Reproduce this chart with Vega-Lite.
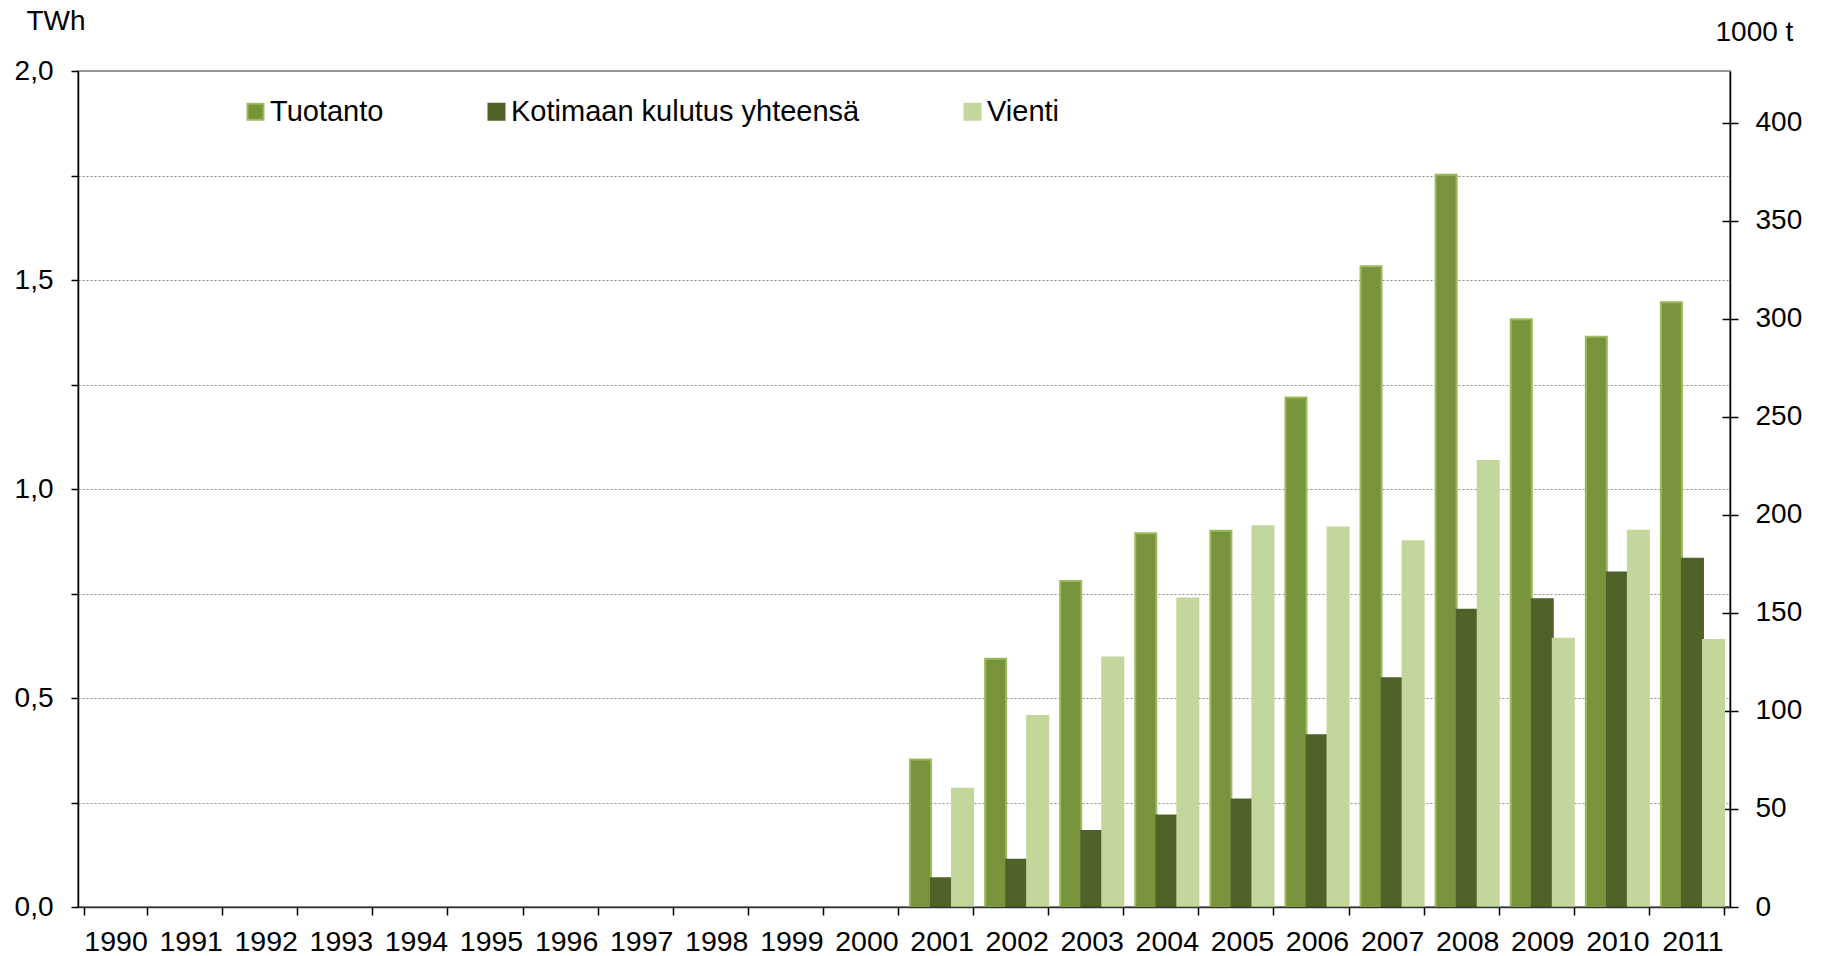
{
  "$schema": "https://vega.github.io/schema/vega-lite/v6.json",
  "width": 1652,
  "height": 836,
  "autosize": {"type": "none"},
  "padding": {"left": 78, "top": 71, "right": 92, "bottom": 49},
  "background": "#ffffff",
  "config": {
    "font": "Liberation Sans",
    "view": {"stroke": "#9a9a9a", "strokeWidth": 2}
  },
  "data": {
    "values": [
      {"year": "2001", "series": "Tuotanto", "value": 0.353},
      {"year": "2002", "series": "Tuotanto", "value": 0.594},
      {"year": "2003", "series": "Tuotanto", "value": 0.780},
      {"year": "2004", "series": "Tuotanto", "value": 0.894},
      {"year": "2005", "series": "Tuotanto", "value": 0.900},
      {"year": "2006", "series": "Tuotanto", "value": 1.219},
      {"year": "2007", "series": "Tuotanto", "value": 1.533},
      {"year": "2008", "series": "Tuotanto", "value": 1.752},
      {"year": "2009", "series": "Tuotanto", "value": 1.406},
      {"year": "2010", "series": "Tuotanto", "value": 1.364},
      {"year": "2011", "series": "Tuotanto", "value": 1.447},
      {"year": "2001", "series": "Kotimaan kulutus yhteensä", "value": 0.069},
      {"year": "2002", "series": "Kotimaan kulutus yhteensä", "value": 0.113},
      {"year": "2003", "series": "Kotimaan kulutus yhteensä", "value": 0.182},
      {"year": "2004", "series": "Kotimaan kulutus yhteensä", "value": 0.219},
      {"year": "2005", "series": "Kotimaan kulutus yhteensä", "value": 0.257},
      {"year": "2006", "series": "Kotimaan kulutus yhteensä", "value": 0.411},
      {"year": "2007", "series": "Kotimaan kulutus yhteensä", "value": 0.547},
      {"year": "2008", "series": "Kotimaan kulutus yhteensä", "value": 0.711},
      {"year": "2009", "series": "Kotimaan kulutus yhteensä", "value": 0.736},
      {"year": "2010", "series": "Kotimaan kulutus yhteensä", "value": 0.800},
      {"year": "2011", "series": "Kotimaan kulutus yhteensä", "value": 0.833},
      {"year": "2001", "series": "Vienti", "value": 0.283},
      {"year": "2002", "series": "Vienti", "value": 0.457},
      {"year": "2003", "series": "Vienti", "value": 0.597},
      {"year": "2004", "series": "Vienti", "value": 0.738},
      {"year": "2005", "series": "Vienti", "value": 0.911},
      {"year": "2006", "series": "Vienti", "value": 0.908},
      {"year": "2007", "series": "Vienti", "value": 0.875},
      {"year": "2008", "series": "Vienti", "value": 1.067},
      {"year": "2009", "series": "Vienti", "value": 0.642},
      {"year": "2010", "series": "Vienti", "value": 0.900},
      {"year": "2011", "series": "Vienti", "value": 0.639}
    ]
  },
  "layer": [
    {
      "mark": {"type": "bar", "strokeWidth": 2},
      "encoding": {
        "x": {
          "field": "year",
          "type": "ordinal",
          "scale": {
            "domain": ["1990", "1991", "1992", "1993", "1994", "1995", "1996", "1997", "1998", "1999", "2000", "2001", "2002", "2003", "2004", "2005", "2006", "2007", "2008", "2009", "2010", "2011"],
            "paddingInner": 0.16,
            "paddingOuter": 0.08
          },
          "axis": {
            "title": null,
            "labelAngle": 0,
            "labelFontSize": 28.5,
            "labelColor": "#000000",
            "labelPadding": 12,
            "tickSize": 8,
            "tickColor": "#000000",
            "tickWidth": 1.5,
            "tickBand": "extent",
            "domainColor": "#333333",
            "domainWidth": 1.5,
            "zindex": 1
          }
        },
        "xOffset": {
          "field": "series",
          "type": "nominal",
          "sort": ["Tuotanto", "Kotimaan kulutus yhteensä", "Vienti"],
          "scale": {"paddingInner": 0, "paddingOuter": 0}
        },
        "y": {
          "field": "value",
          "type": "quantitative",
          "scale": {"domain": [0, 2], "nice": false},
          "axis": {
            "values": [0, 0.25, 0.5, 0.75, 1, 1.25, 1.5, 1.75, 2],
            "labelExpr": "datum.value % 0.5 == 0 ? replace(format(datum.value, '.1f'), '.', ',') : ''",
            "labelFontSize": 28,
            "labelColor": "#000000",
            "labelPadding": 18,
            "tickSize": 7,
            "tickColor": "#000000",
            "tickWidth": 1.5,
            "domainColor": "#000000",
            "domainWidth": 1.5,
            "grid": true,
            "gridDash": [2, 2],
            "gridColor": "#8c8c8c",
            "gridWidth": 1,
            "title": "TWh",
            "titleAngle": 0,
            "titleX": -52,
            "titleY": -50,
            "titleAlign": "left",
            "titleBaseline": "middle",
            "titleFontSize": 28,
            "titleFontWeight": "normal",
            "titleColor": "#000000"
          }
        },
        "fill": {
          "field": "series",
          "type": "nominal",
          "sort": ["Tuotanto", "Kotimaan kulutus yhteensä", "Vienti"],
          "scale": {
            "domain": ["Tuotanto", "Kotimaan kulutus yhteensä", "Vienti"],
            "range": ["#77933C", "#4F6228", "#C3D69B"]
          },
          "legend": {
            "orient": "none",
            "legendX": 163,
            "legendY": 26,
            "direction": "horizontal",
            "title": null,
            "symbolType": "square",
            "symbolSize": 256,
            "symbolStrokeWidth": 2,
            "labelFontSize": 29,
            "labelColor": "#000000",
            "labelOffset": 0,
            "labelLimit": 0,
            "columnPadding": 98
          }
        },
        "stroke": {
          "field": "series",
          "type": "nominal",
          "sort": ["Tuotanto", "Kotimaan kulutus yhteensä", "Vienti"],
          "scale": {
            "domain": ["Tuotanto", "Kotimaan kulutus yhteensä", "Vienti"],
            "range": ["#9BBB59", "#4F6228", "#C3D69B"]
          }
        }
      }
    },
    {
      "mark": {"type": "point", "opacity": 0},
      "encoding": {
        "y": {
          "field": "value",
          "type": "quantitative",
          "scale": {"domain": [0, 426.5], "nice": false},
          "axis": {
            "orient": "right",
            "values": [0, 50, 100, 150, 200, 250, 300, 350, 400],
            "labelFontSize": 28,
            "labelColor": "#000000",
            "labelPadding": 17,
            "tickSize": 8,
            "tickColor": "#000000",
            "tickWidth": 1.5,
            "domainColor": "#000000",
            "domainWidth": 1.5,
            "grid": false,
            "title": "1000 t",
            "titleAngle": 0,
            "titleX": -15,
            "titleY": -38.5,
            "titleAlign": "left",
            "titleBaseline": "middle",
            "titleFontSize": 28,
            "titleFontWeight": "normal",
            "titleColor": "#000000"
          }
        }
      }
    },
    {
      "mark": {"type": "point", "opacity": 0},
      "encoding": {
        "y": {
          "field": "value",
          "type": "quantitative",
          "scale": {"domain": [0, 426.5], "nice": false},
          "axis": {
            "orient": "right",
            "offset": 0,
            "values": [0, 50, 100, 150, 200, 250, 300, 350, 400],
            "labels": false,
            "domain": false,
            "tickSize": -8,
            "tickColor": "#000000",
            "tickWidth": 1.5,
            "grid": false,
            "title": null
          }
        }
      }
    }
  ],
  "resolve": {"scale": {"y": "independent"}}
}
